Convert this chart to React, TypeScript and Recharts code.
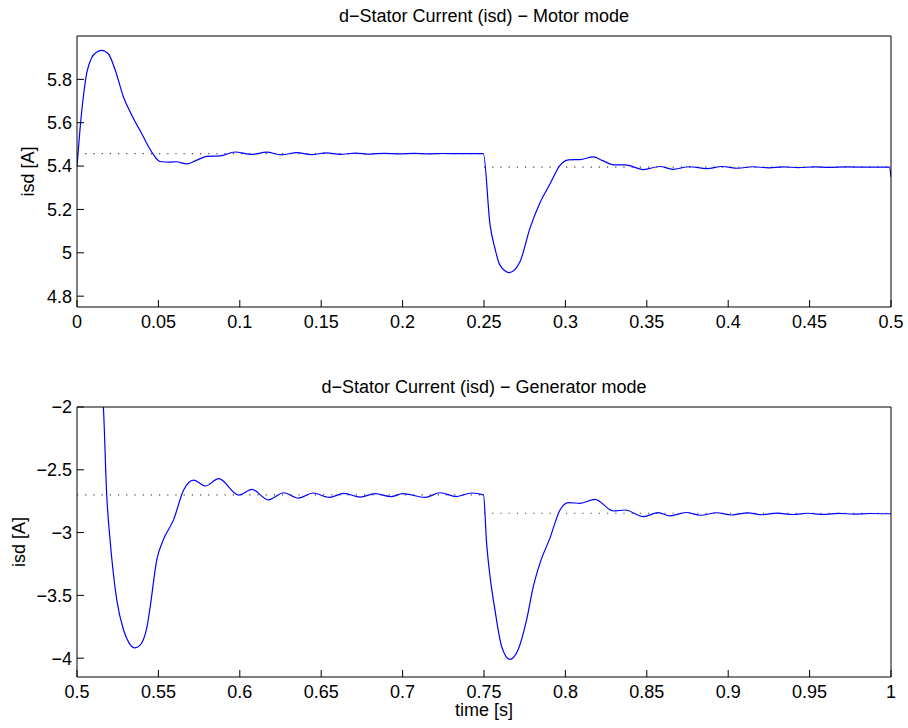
import React from 'react';
import { LineChart, Line, XAxis, YAxis } from 'recharts';

// ---- Top plot: Motor mode ----
const motorTime = [
  0, 0.0018, 0.0039, 0.006, 0.009, 0.012, 0.0151, 0.0193, 0.0233, 0.0285,
  0.0336, 0.0397, 0.0459, 0.051, 0.0571, 0.061, 0.0674, 0.073, 0.0797, 0.0878,
  0.097, 0.107, 0.1165, 0.1256, 0.135, 0.144, 0.153, 0.162, 0.171, 0.18,
  0.189, 0.198, 0.207, 0.216, 0.225, 0.234, 0.2496, 0.2537, 0.2567, 0.2598,
  0.2656, 0.2721, 0.2783, 0.2844, 0.2905, 0.2967, 0.3018, 0.309, 0.3171, 0.323,
  0.3294, 0.3366, 0.3479, 0.3581, 0.366, 0.376, 0.387, 0.396, 0.406, 0.415,
  0.425, 0.434, 0.443, 0.453, 0.462, 0.472, 0.49, 0.499, 0.5,
];
const motorIsd = [
  5.40, 5.566, 5.72, 5.83, 5.90, 5.925, 5.934, 5.917, 5.847, 5.72,
  5.636, 5.55, 5.465, 5.421, 5.418, 5.42, 5.41, 5.425, 5.445, 5.447,
  5.465, 5.454, 5.464, 5.452, 5.462, 5.453, 5.461, 5.454, 5.46, 5.455,
  5.459, 5.456, 5.459, 5.456, 5.458, 5.457, 5.457, 5.13, 5.021, 4.943,
  4.909, 4.959, 5.115, 5.231, 5.317, 5.403, 5.429, 5.43, 5.442, 5.425,
  5.406, 5.406, 5.384, 5.398, 5.385, 5.397, 5.388, 5.398, 5.39, 5.397,
  5.392, 5.396, 5.393, 5.396, 5.394, 5.396, 5.395, 5.395, 5.35,
];
const motorRefTime1 = [0, 0.25];
const motorRefVal1 = [5.457, 5.457];
const motorRefTime2 = [0.25, 0.5];
const motorRefVal2 = [5.395, 5.395];
const motorXTicks = [0, 0.05, 0.1, 0.15, 0.2, 0.25, 0.3, 0.35, 0.4, 0.45, 0.5];
const motorYTicks = [4.8, 5, 5.2, 5.4, 5.6, 5.8];

// ---- Bottom plot: Generator mode ----
const genTime = [
  0.5, 0.51, 0.5162, 0.5182, 0.5203, 0.5223, 0.5244, 0.5285, 0.532, 0.5356,
  0.5385, 0.5408, 0.543, 0.545, 0.549, 0.553, 0.5593, 0.5655, 0.5716, 0.5788,
  0.587, 0.5993, 0.6075, 0.6175, 0.627, 0.636, 0.645, 0.655, 0.664, 0.674,
  0.683, 0.693, 0.7, 0.7138, 0.723, 0.733, 0.7424, 0.7497, 0.7516, 0.7537,
  0.7567, 0.7608, 0.7659, 0.771, 0.7762, 0.7803, 0.7844, 0.7905, 0.7967, 0.8018,
  0.809, 0.8182, 0.8295, 0.8366, 0.8479, 0.857, 0.8643, 0.874, 0.883, 0.893,
  0.902, 0.912, 0.921, 0.93, 0.94, 0.949, 0.958, 0.968, 0.977, 0.987, 1.0,
];
const genIsd = [
  -0.6, -1.3, -2.0, -2.687, -3.058, -3.322, -3.534, -3.772, -3.88, -3.918,
  -3.9, -3.852, -3.75, -3.587, -3.217, -3.058, -2.899, -2.661, -2.582, -2.629,
  -2.571, -2.701, -2.656, -2.74, -2.683, -2.725, -2.685, -2.72, -2.688, -2.717,
  -2.69, -2.714, -2.69, -2.72, -2.683, -2.713, -2.685, -2.70, -3.084, -3.349,
  -3.614, -3.905, -4.01, -3.931, -3.693, -3.429, -3.243, -3.044, -2.82, -2.762,
  -2.767, -2.735, -2.828, -2.82, -2.873, -2.841, -2.867, -2.84, -2.862, -2.842,
  -2.86, -2.843, -2.858, -2.845, -2.856, -2.846, -2.855, -2.847, -2.853, -2.848, -2.85,
];
const genRefTime1 = [0.5, 0.75];
const genRefVal1 = [-2.7, -2.7];
const genRefTime2 = [0.75, 1.0];
const genRefVal2 = [-2.846, -2.846];
const genXTicks = [0.5, 0.55, 0.6, 0.65, 0.7, 0.75, 0.8, 0.85, 0.9, 0.95, 1];
const genYTicks = [-4, -3.5, -3, -2.5, -2];

const zip = (ts: number[], vs: number[]) => ts.map((t, i) => ({ t, v: vs[i] }));

const FONT = '"Liberation Sans", Arial, Helvetica, sans-serif';
const FS = 18;
const fmt = (v: number) => String(v).replace('-', '\u2212');

type PanelProps = {
  xDomain: [number, number];
  yDomain: [number, number];
  xTicks: number[];
  yTicks: number[];
  curve: { t: number; v: number }[];
  ref1: { t: number; v: number }[];
  ref2: { t: number; v: number }[];
  marginTop: number;
  marginBottom: number;
};

function Panel(p: PanelProps) {
  const tickStyle = { fill: '#000', fontSize: FS, fontFamily: FONT };
  const axisLine = { stroke: '#000', strokeWidth: 1 };
  const tickLine = { stroke: '#000', strokeWidth: 1 };
  return (
    <LineChart
      width={908}
      height={364}
      margin={{ top: p.marginTop, right: 16, bottom: p.marginBottom, left: 17 }}
    >
      <XAxis
        xAxisId="b"
        dataKey="t"
        type="number"
        domain={p.xDomain}
        ticks={p.xTicks}
        interval={0}
        allowDataOverflow
        tick={tickStyle}
        tickFormatter={fmt}
        tickSize={-7}
        tickMargin={15}
        axisLine={axisLine}
        tickLine={tickLine}
        height={30}
      />
      <XAxis
        xAxisId="t"
        orientation="top"
        dataKey="t"
        type="number"
        domain={p.xDomain}
        ticks={p.xTicks}
        interval={0}
        allowDataOverflow
        tick={false}
        tickSize={-7}
        axisLine={axisLine}
        tickLine={tickLine}
        height={1}
      />
      <YAxis
        yAxisId="l"
        type="number"
        domain={p.yDomain}
        ticks={p.yTicks}
        interval={0}
        allowDataOverflow
        tick={tickStyle}
        tickFormatter={fmt}
        tickSize={-7}
        tickMargin={12}
        axisLine={axisLine}
        tickLine={tickLine}
        width={60}
      />
      <YAxis
        yAxisId="r"
        orientation="right"
        type="number"
        domain={p.yDomain}
        ticks={p.yTicks}
        interval={0}
        allowDataOverflow
        tick={false}
        tickSize={-7}
        axisLine={axisLine}
        tickLine={tickLine}
        width={1}
      />
      <Line
        xAxisId="b"
        yAxisId="l"
        data={p.ref1}
        dataKey="v"
        type="linear"
        stroke="#444"
        strokeWidth={1.2}
        strokeDasharray="1.2 7"
        dot={false}
        activeDot={false}
        isAnimationActive={false}
      />
      <Line
        xAxisId="b"
        yAxisId="l"
        data={p.ref2}
        dataKey="v"
        type="linear"
        stroke="#444"
        strokeWidth={1.2}
        strokeDasharray="1.2 7"
        dot={false}
        activeDot={false}
        isAnimationActive={false}
      />
      <Line
        xAxisId="b"
        yAxisId="l"
        data={p.curve}
        dataKey="v"
        type="monotone"
        stroke="#0000ff"
        strokeWidth={1.2}
        dot={false}
        activeDot={false}
        isAnimationActive={false}
      />
    </LineChart>
  );
}

export default function App() {
  const textStyle = { fontFamily: FONT, fontSize: FS, fill: '#000' } as const;
  return (
    <div style={{ position: 'absolute', left: 0, top: 0, width: 908, height: 728, background: '#fff' }}>
      <div style={{ position: 'absolute', left: 0, top: 0 }}>
        <Panel
          xDomain={[0, 0.5]}
          yDomain={[4.75, 6.0]}
          xTicks={motorXTicks}
          yTicks={motorYTicks}
          curve={zip(motorTime, motorIsd)}
          ref1={zip(motorRefTime1, motorRefVal1)}
          ref2={zip(motorRefTime2, motorRefVal2)}
          marginTop={35}
          marginBottom={27}
        />
      </div>
      <div style={{ position: 'absolute', left: 0, top: 364 }}>
        <Panel
          xDomain={[0.5, 1]}
          yDomain={[-4.15, -2]}
          xTicks={genXTicks}
          yTicks={genYTicks}
          curve={zip(genTime, genIsd)}
          ref1={zip(genRefTime1, genRefVal1)}
          ref2={zip(genRefTime2, genRefVal2)}
          marginTop={42}
          marginBottom={21}
        />
      </div>
      <svg
        width={908}
        height={728}
        style={{ position: 'absolute', left: 0, top: 0, pointerEvents: 'none' }}
      >
        <text x={484} y={22} textAnchor="middle" style={textStyle}>
          d{'\u2212'}Stator Current (isd) {'\u2212'} Motor mode
        </text>
        <text x={484} y={393} textAnchor="middle" style={textStyle}>
          d{'\u2212'}Stator Current (isd) {'\u2212'} Generator mode
        </text>
        <text transform="translate(34,171.5) rotate(-90)" textAnchor="middle" style={textStyle}>
          isd [A]
        </text>
        <text transform="translate(25,542) rotate(-90)" textAnchor="middle" style={textStyle}>
          isd [A]
        </text>
        <text x={484} y={716} textAnchor="middle" style={textStyle}>
          time [s]
        </text>
      </svg>
    </div>
  );
}
